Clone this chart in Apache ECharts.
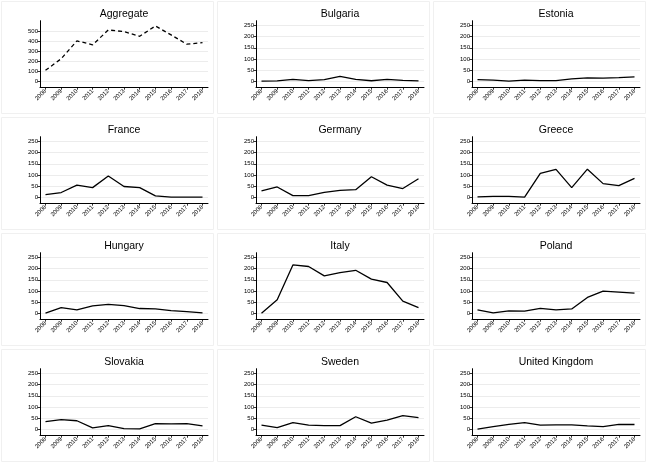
<!DOCTYPE html>
<html>
<head>
<meta charset="utf-8">
<script src="https://cdn.jsdelivr.net/npm/echarts@6/dist/echarts.min.js"></script>
<style>
html,body{margin:0;padding:0;background:#fff;}
#c{width:648px;height:466px;}
</style>
</head>
<body>
<div id="c"></div>
<script>
const years = [2008,2009,2010,2011,2012,2013,2014,2015,2016,2017,2018];
const panelNames = ['Aggregate','Bulgaria','Estonia','France','Germany','Greece','Hungary','Italy','Poland','Slovakia','Sweden','United Kingdom'];
const aggregate = [110,227,407,367,517,500,453,557,467,373,390];
const bulgaria  = [0,1,8,3,7,22,8,2,8,4,1];
const estonia   = [7,5,0,5,3,3,10,15,14,16,19];
const france    = [12,21,54,43,95,48,43,6,0,0,0];
const germany   = [28,46,7,7,22,31,34,92,54,39,83];
const greece    = [1,4,4,0,107,125,43,126,61,52,85];
const hungary   = [0,25,15,33,40,34,21,19,12,7,1];
const italy     = [0,60,217,210,168,182,193,153,138,54,25];
const poland    = [15,1,10,9,22,15,19,71,99,95,90];
const slovakia  = [34,43,38,6,16,3,1,25,24,25,15];
const sweden    = [18,7,30,18,16,16,56,27,41,61,52];
const uk        = [0,12,22,30,18,19,19,15,12,22,21];
const seriesValues = [aggregate,bulgaria,estonia,france,germany,greece,hungary,italy,poland,slovakia,sweden,uk];
const aggTicks = [0,100,200,300,400,500];
const countryTicks = [0,50,100,150,200,250];

const chart = echarts.init(document.getElementById('c'), null, {renderer:'canvas'});
const grids = [], xAxes = [], yAxes = [], series = [], titles = [], graphics = [];
const colX = [0,216,432];
const rowY = [0,116,232,348];
const font = 'Liberation Sans, Arial, sans-serif';
for (let i = 0; i < 12; i++) {
  const col = i % 3, row = Math.floor(i / 3);
  const ox = colX[col], oy = rowY[row];
  const isAgg = i === 0;
  grids.push({left: ox + 40, top: oy + 20.7, width: 168, height: 66.5, containLabel:false});
  graphics.push({type:'rect', shape:{x: ox + 1.5, y: oy + 1.5, width: 212, height: 112}, style:{fill:'none', stroke:'#f0f0f0', lineWidth:1}, silent:true});
  titles.push({text: panelNames[i], left: ox + 124, top: oy + 9, textAlign:'center',
    textStyle:{fontSize:10.5, fontWeight:'normal', color:'#000', fontFamily:font}, padding:0});
  xAxes.push({gridIndex:i, type:'value', min:2007.65, max:2018.35,
    axisLine:{show:true, onZero:false, lineStyle:{color:'#000', width:1}},
    axisTick:{show:true, length:2.5, customValues: years, lineStyle:{color:'#000', width:0.8}},
    axisLabel:{customValues: years, rotate:45, fontSize:6, color:'#000', margin:3, fontFamily:font, formatter: v => String(v)},
    splitLine:{show:false}});
  const ticks = isAgg ? aggTicks : countryTicks;
  yAxes.push({gridIndex:i, type:'value', min: isAgg ? -60 : -27, max: isAgg ? 610 : 272,
    axisLine:{show:true, lineStyle:{color:'#000', width:1}},
    axisTick:{show:true, length:2.5, customValues: ticks, lineStyle:{color:'#000', width:0.8}},
    axisLabel:{customValues: ticks, fontSize:6, color:'#000', margin:2, fontFamily:font},
    splitLine:{show:true, lineStyle:{color:'#ececec', width:1}}});
  series.push({type:'line', xAxisIndex:i, yAxisIndex:i, symbol:'none', silent:true,
    data: years.map((y,k) => [y, seriesValues[i][k]]),
    lineStyle:{color:'#000', width:1.3, type: isAgg ? [4,3] : 'solid'}});
}
chart.setOption({animation:false, backgroundColor:'#fff', title:titles, grid:grids, xAxis:xAxes, yAxis:yAxes, series:series, graphic:graphics});
</script>
</body>
</html>
